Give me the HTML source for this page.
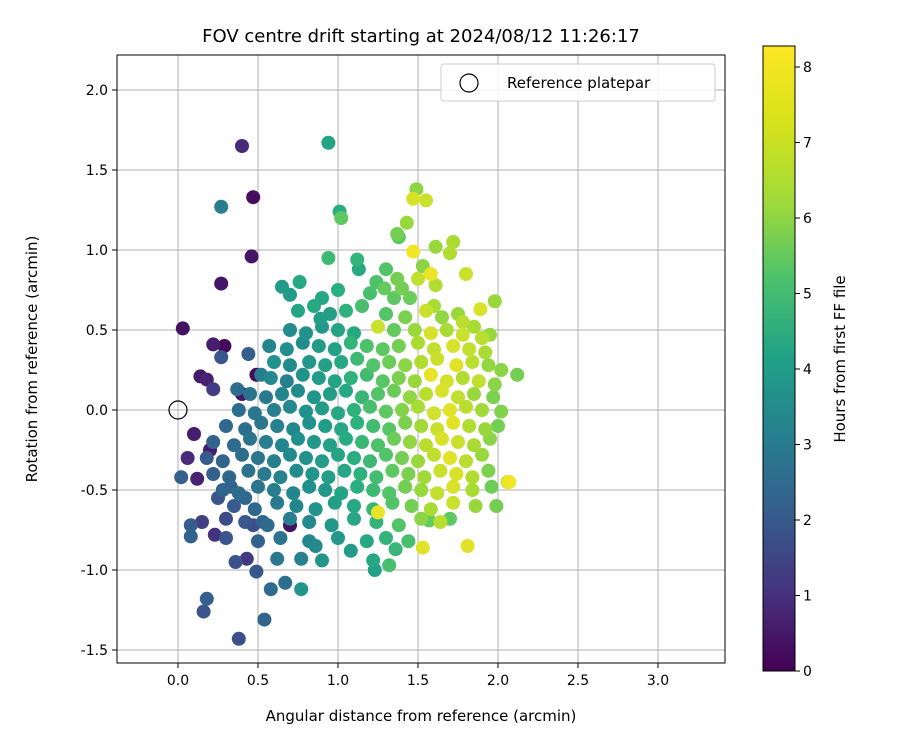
<!DOCTYPE html>
<html><head><meta charset="utf-8"><style>
body{margin:0;background:#fff;}
svg text{font-family:"DejaVu Sans","Liberation Sans",sans-serif;fill:#000;}
</style></head><body>
<svg id="chart" width="900" height="750" xmlns="http://www.w3.org/2000/svg">
<defs><linearGradient id="vir" x1="0" y1="1" x2="0" y2="0">
<stop offset="0" stop-color="#440154"/><stop offset="0.125" stop-color="#46327e"/><stop offset="0.25" stop-color="#365c8d"/><stop offset="0.375" stop-color="#277f8e"/><stop offset="0.5" stop-color="#1fa187"/><stop offset="0.625" stop-color="#4ac16d"/><stop offset="0.75" stop-color="#a0da39"/><stop offset="0.875" stop-color="#d5e21a"/><stop offset="1" stop-color="#fde725"/>
</linearGradient><clipPath id="pc"><rect x="117" y="55" width="608" height="608"/></clipPath></defs>
<text x="421" y="42" text-anchor="middle" font-size="18">FOV centre drift starting at 2024/08/12 11:26:17</text>
<g id="grid"></g>
<g id="pts" clip-path="url(#pc)"></g>
<rect x="117" y="55" width="608" height="608" fill="none" stroke="#000" stroke-width="1"/>
<g id="ticks"></g>
<text x="421" y="721" text-anchor="middle" font-size="15">Angular distance from reference (arcmin)</text>
<text transform="translate(37,359) rotate(-90)" text-anchor="middle" font-size="15">Rotation from reference (arcmin)</text>
<g>
<rect x="441" y="64" width="274" height="37" rx="3" fill="#fff" fill-opacity="0.85" stroke="#ccc"/>
<circle cx="469" cy="83" r="9" fill="none" stroke="#000" stroke-width="1.2"/>
<text x="507" y="88" font-size="15">Reference platepar</text>
</g>
<rect x="763" y="46" width="32" height="625" fill="url(#vir)" stroke="#000" stroke-width="1"/>
<g id="cbt"></g>
<text transform="translate(845,359) rotate(-90)" text-anchor="middle" font-size="15">Hours from first FF file</text>
</svg>
<script>
const xTicks=[0.0,0.5,1.0,1.5,2.0,2.5,3.0];
const yTicks=[-1.5,-1.0,-0.5,0.0,0.5,1.0,1.5,2.0];
const cTicks=[0,1,2,3,4,5,6,7,8];
const pts=[
[0.40,1.65,1.0],[0.94,1.67,4.8],[0.47,1.33,0.3],[0.27,1.27,3.5],[1.01,1.24,5.2],[1.02,1.20,6.2],[0.46,0.96,0.5],[0.27,0.79,0.5],[0.03,0.51,0.4],[0.22,0.41,0.7],[0.29,0.40,0.2],[0.27,0.33,2.2],[0.14,0.21,0.6],[0.18,0.19,0.8],[0.22,0.13,1.5],[0.37,0.13,3.0],[0.40,0.10,0.5],[0.49,0.22,0.3],[0.52,0.22,3.5],[0.44,0.35,2.5],[0.02,-0.42,2.5],[0.08,-0.79,2.6],[0.08,-0.72,2.4],[0.18,-1.18,2.5],[0.16,-1.26,2.2],[0.38,-1.43,2.0],[0.54,-1.31,2.7],[0.58,-1.12,2.9],[0.67,-1.08,3.0],[0.77,-1.12,4.3],[0.36,-0.95,2.1],[0.43,-0.93,1.4],[0.49,-1.01,2.3],[0.62,-0.93,3.3],[0.77,-0.93,3.6],[0.86,-0.85,3.9],[0.90,-0.94,4.3],[0.70,-0.72,0.4],[0.10,-0.15,0.7],[0.06,-0.30,1.0],[0.12,-0.43,0.8],[0.20,-0.25,0.6],[0.15,-0.70,1.6],[0.23,-0.78,1.2],[0.30,-0.68,1.9],[0.25,-0.55,2.2],[0.33,-0.48,2.6],[0.42,-0.55,2.8],[0.47,-0.72,2.0],[0.53,-0.70,2.6],
[1.49,1.38,6.8],[1.47,1.32,7.8],[1.55,1.31,7.6],[1.43,1.17,7.0],[1.37,1.10,6.5],[1.38,1.08,6.2],[1.61,1.02,7.0],[1.72,1.05,7.2],[1.47,0.99,8.1],[1.70,0.98,7.3],[1.53,0.90,6.8],[1.58,0.85,8.0],[1.80,0.85,7.6],[1.50,0.82,7.5],[1.61,0.78,7.3],[1.24,0.80,5.9],[1.29,0.76,6.3],[1.40,0.76,6.5],[1.12,0.94,5.4],[0.94,0.95,5.6],[0.76,0.80,5.0],[0.65,0.77,4.5],[0.89,0.57,4.6],[1.13,0.88,5.0],[1.20,0.73,5.8],[1.35,0.70,6.2],[1.45,0.70,6.4],[1.60,0.65,7.2],[1.75,0.60,7.0],[1.98,0.68,7.0],[1.89,0.63,7.8],[2.12,0.22,6.5],[2.02,0.25,6.8],[2.06,-0.45,7.6],[2.07,-0.45,8.1],[1.81,-0.85,7.9],[1.53,-0.86,7.9],[1.25,-0.64,8.0],[1.36,-0.87,5.5],[1.32,-0.97,5.8],[1.22,-0.94,5.0],[1.23,-1.00,4.7],[1.08,-0.88,4.5],[1.57,-0.69,6.3],[1.70,-0.68,6.2],[1.99,-0.60,6.5],
[1.00,0.75,5.2],[0.90,0.70,4.9],[0.70,0.72,4.5],[1.30,0.88,6.0],[1.37,0.82,6.5],
[0.75,0.62,4.8],[0.85,0.65,5.0],[0.95,0.60,4.6],[1.05,0.62,5.3],[1.15,0.65,5.8],[1.30,0.60,6.0],[1.42,0.58,6.6],[1.55,0.62,7.6],[1.65,0.58,6.9],[1.78,0.55,7.4],[1.85,0.52,7.2],
[0.70,0.50,4.0],[0.80,0.48,4.2],[0.90,0.52,4.4],[1.00,0.50,4.8],[1.10,0.48,5.0],[1.25,0.52,7.6],[1.35,0.50,6.3],[1.48,0.50,7.0],[1.58,0.48,7.8],[1.68,0.50,7.2],[1.78,0.47,7.6],[1.90,0.45,7.4],[1.95,0.47,7.0],
[0.57,0.40,3.8],[0.68,0.38,4.1],[0.78,0.42,4.0],[0.88,0.40,4.5],[0.98,0.38,4.7],[1.08,0.42,5.4],[1.18,0.40,5.9],[1.28,0.38,6.2],[1.38,0.40,6.5],[1.50,0.42,7.2],[1.60,0.38,7.5],[1.72,0.40,7.8],[1.82,0.38,7.5],[1.92,0.36,7.2],
[0.60,0.30,4.2],[0.70,0.28,4.0],[0.82,0.30,4.4],[0.92,0.28,4.7],[1.02,0.30,5.0],[1.12,0.32,5.6],[1.22,0.28,6.0],[1.32,0.30,6.4],[1.42,0.28,6.8],[1.52,0.30,7.3],[1.62,0.32,7.6],[1.74,0.28,7.9],[1.84,0.30,7.4],[1.94,0.28,6.9],
[0.58,0.20,3.9],[0.68,0.18,3.6],[0.78,0.22,4.2],[0.88,0.20,4.5],[0.98,0.18,4.8],[1.08,0.20,5.3],[1.18,0.22,5.7],[1.28,0.18,6.1],[1.38,0.20,6.6],[1.48,0.18,7.0],[1.58,0.22,8.0],[1.68,0.18,7.7],[1.78,0.20,7.3],[1.88,0.18,7.5],[1.98,0.16,6.8],
[0.45,0.10,3.2],[0.55,0.08,3.4],[0.65,0.10,3.8],[0.75,0.12,4.0],[0.85,0.08,4.3],[0.95,0.10,4.6],[1.05,0.12,5.0],[1.15,0.08,5.5],[1.25,0.10,6.0],[1.35,0.12,6.4],[1.45,0.08,6.9],[1.55,0.10,7.4],[1.65,0.12,7.8],[1.75,0.08,7.5],[1.85,0.10,7.0],[1.97,0.08,6.6],
[0.38,0.00,3.0],[0.48,-0.02,3.3],[0.60,0.00,3.6],[0.70,0.02,3.9],[0.80,-0.01,4.2],[0.90,0.01,4.5],[1.00,-0.02,4.9],[1.10,0.00,5.3],[1.20,0.02,5.8],[1.30,-0.01,6.2],[1.40,0.00,6.7],[1.50,0.02,7.2],[1.60,-0.02,7.7],[1.70,0.00,7.9],[1.80,0.02,7.4],[1.90,0.00,7.1],[2.02,-0.01,6.7],
[0.30,-0.10,2.8],[0.42,-0.12,3.0],[0.52,-0.08,3.3],[0.62,-0.10,3.6],[0.72,-0.12,3.9],[0.82,-0.08,4.2],[0.92,-0.10,4.5],[1.02,-0.12,4.9],[1.12,-0.08,5.3],[1.22,-0.10,5.7],[1.32,-0.12,6.1],[1.42,-0.08,6.6],[1.52,-0.10,7.1],[1.62,-0.12,7.6],[1.72,-0.08,7.9],[1.82,-0.10,7.3],[1.92,-0.12,7.0],[2.00,-0.10,6.5],
[0.22,-0.20,2.6],[0.35,-0.22,2.9],[0.45,-0.18,3.2],[0.55,-0.20,3.5],[0.65,-0.22,3.8],[0.75,-0.18,4.1],[0.85,-0.20,4.4],[0.95,-0.22,4.7],[1.05,-0.18,5.1],[1.15,-0.20,5.5],[1.25,-0.22,5.9],[1.35,-0.18,6.4],[1.45,-0.20,6.9],[1.55,-0.22,7.4],[1.65,-0.18,7.8],[1.75,-0.20,7.6],[1.85,-0.22,7.2],[1.95,-0.18,6.8],
[0.18,-0.30,2.4],[0.28,-0.32,2.7],[0.40,-0.28,3.0],[0.50,-0.30,3.3],[0.60,-0.32,3.6],[0.70,-0.28,3.9],[0.80,-0.30,4.2],[0.90,-0.32,4.5],[1.00,-0.28,4.8],[1.10,-0.30,5.2],[1.20,-0.32,5.6],[1.30,-0.28,6.0],[1.40,-0.30,6.5],[1.50,-0.32,7.0],[1.60,-0.28,7.5],[1.70,-0.30,7.9],[1.80,-0.32,7.4],[1.90,-0.28,7.0],
[0.22,-0.40,2.5],[0.32,-0.42,2.8],[0.44,-0.38,3.1],[0.54,-0.40,3.4],[0.64,-0.42,3.7],[0.74,-0.38,4.0],[0.84,-0.40,4.3],[0.94,-0.42,4.6],[1.04,-0.38,4.9],[1.14,-0.40,5.3],[1.24,-0.42,5.7],[1.34,-0.38,6.2],[1.44,-0.40,6.6],[1.54,-0.42,7.1],[1.64,-0.38,7.6],[1.74,-0.40,7.8],[1.84,-0.42,7.3],[1.94,-0.38,6.6],
[0.28,-0.50,2.7],[0.38,-0.52,2.9],[0.50,-0.48,3.2],[0.60,-0.50,3.5],[0.72,-0.52,3.8],[0.82,-0.48,4.1],[0.92,-0.50,4.4],[1.02,-0.52,4.8],[1.12,-0.48,5.2],[1.22,-0.50,5.6],[1.32,-0.52,6.0],[1.42,-0.48,6.5],[1.52,-0.50,7.0],[1.62,-0.52,7.5],[1.72,-0.48,7.8],[1.84,-0.50,7.2],[1.96,-0.48,6.4],
[0.35,-0.60,2.4],[0.48,-0.62,2.8],[0.62,-0.58,3.4],[0.74,-0.60,3.8],[0.86,-0.62,4.2],[0.98,-0.58,4.6],[1.10,-0.60,5.0],[1.22,-0.62,5.5],[1.34,-0.58,6.0],[1.46,-0.60,6.5],[1.58,-0.62,7.2],[1.72,-0.58,7.6],[1.86,-0.60,7.0],
[0.42,-0.70,2.3],[0.56,-0.72,2.9],[0.70,-0.68,3.5],[0.82,-0.70,3.9],[0.96,-0.72,4.4],[1.10,-0.68,4.9],[1.24,-0.70,5.4],[1.38,-0.72,6.0],[1.52,-0.68,6.8],[1.64,-0.70,7.4],
[0.30,-0.80,2.2],[0.50,-0.82,2.6],[0.64,-0.80,3.2],[0.82,-0.82,3.8],[1.00,-0.80,4.4],[1.18,-0.82,5.0],[1.30,-0.80,5.4],[1.44,-0.82,5.8]
];
const X0=178,Y0=410,S=160;
const sx=v=>X0+v*S, sy=v=>Y0-v*S, sc=h=>671-h*75.5;
const vir=[[68,1,84],[71,44,122],[59,81,139],[44,113,142],[33,144,141],[39,173,129],[92,200,99],[170,220,50],[253,231,37]];
function col(h){let t=Math.max(0,Math.min(1,h/8.25))*8,i=Math.min(7,Math.floor(t)),f=t-i;const a=vir[i],b=vir[i+1];return`rgb(${a.map((v,k)=>Math.round(v+(b[k]-v)*f)).join(',')})`;}
const NS="http://www.w3.org/2000/svg";
function mk(p,t,a){const e=document.createElementNS(NS,t);for(const k in a)e.setAttribute(k,a[k]);p.appendChild(e);return e;}
const g=document.getElementById('grid'),tk=document.getElementById('ticks'),P=document.getElementById('pts'),cb=document.getElementById('cbt');
xTicks.forEach(v=>{const x=sx(v);
const l=mk(g,'line',{x1:x,x2:x,y1:55,y2:663,stroke:'#b0b0b0','stroke-width':1});

mk(tk,'line',{x1:x,x2:x,y1:663,y2:668,stroke:'#000'});
const t=mk(tk,'text',{x:x,y:685,'text-anchor':'middle','font-size':14});t.textContent=v.toFixed(1);
});
yTicks.forEach(v=>{const y=sy(v);
const l=mk(g,'line',{x1:117,x2:725,y1:y,y2:y,stroke:'#b0b0b0','stroke-width':1});

mk(tk,'line',{x1:112,x2:117,y1:y,y2:y,stroke:'#000'});
const t=mk(tk,'text',{x:108,y:y+5,'text-anchor':'end','font-size':14});t.textContent=v.toFixed(1);
});
cTicks.forEach(v=>{const y=sc(v);
mk(cb,'line',{x1:795,x2:800,y1:y,y2:y,stroke:'#000'});
const t=mk(cb,'text',{x:803,y:y+5,'font-size':14});t.textContent=v;
});
pts.slice().sort((a,b)=>a[2]-b[2]).forEach(p=>{
const c=mk(P,'circle',{cx:sx(p[0]),cy:sy(p[1]),r:7,fill:col(p[2])});
});
const r=mk(P,'circle',{cx:sx(0),cy:sy(0),r:9,fill:'none',stroke:'#000','stroke-width':1.2});

</script>
</body></html>
